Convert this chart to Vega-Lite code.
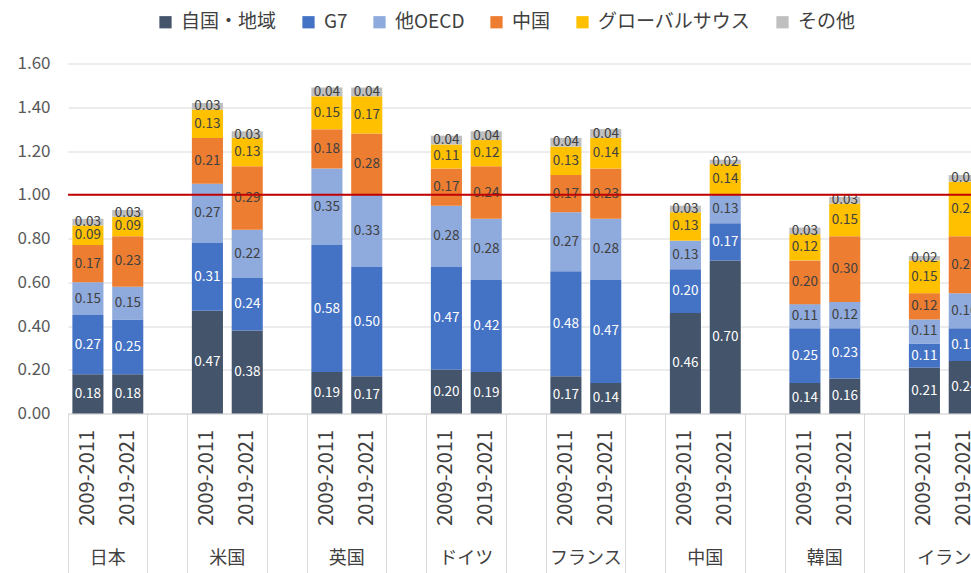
{
  "$schema": "https://vega.github.io/schema/vega-lite/v6.json",
  "width": 903,
  "height": 350,
  "autosize": {"type": "none"},
  "padding": {"left": 68, "top": 63.5, "right": 0, "bottom": 159.5},
  "config": {
    "font": "Noto Sans CJK JP",
    "view": {"stroke": null}
  },
  "layer": [
    {
      "data": {"values": [
        {"country":"日本","period":"2009-2011","cat":"自国・地域","value":0.18},
        {"country":"日本","period":"2009-2011","cat":"G7","value":0.27},
        {"country":"日本","period":"2009-2011","cat":"他OECD","value":0.15},
        {"country":"日本","period":"2009-2011","cat":"中国","value":0.17},
        {"country":"日本","period":"2009-2011","cat":"グローバルサウス","value":0.09},
        {"country":"日本","period":"2009-2011","cat":"その他","value":0.03},
        {"country":"日本","period":"2019-2021","cat":"自国・地域","value":0.18},
        {"country":"日本","period":"2019-2021","cat":"G7","value":0.25},
        {"country":"日本","period":"2019-2021","cat":"他OECD","value":0.15},
        {"country":"日本","period":"2019-2021","cat":"中国","value":0.23},
        {"country":"日本","period":"2019-2021","cat":"グローバルサウス","value":0.09},
        {"country":"日本","period":"2019-2021","cat":"その他","value":0.03},
        {"country":"米国","period":"2009-2011","cat":"自国・地域","value":0.47},
        {"country":"米国","period":"2009-2011","cat":"G7","value":0.31},
        {"country":"米国","period":"2009-2011","cat":"他OECD","value":0.27},
        {"country":"米国","period":"2009-2011","cat":"中国","value":0.21},
        {"country":"米国","period":"2009-2011","cat":"グローバルサウス","value":0.13},
        {"country":"米国","period":"2009-2011","cat":"その他","value":0.03},
        {"country":"米国","period":"2019-2021","cat":"自国・地域","value":0.38},
        {"country":"米国","period":"2019-2021","cat":"G7","value":0.24},
        {"country":"米国","period":"2019-2021","cat":"他OECD","value":0.22},
        {"country":"米国","period":"2019-2021","cat":"中国","value":0.29},
        {"country":"米国","period":"2019-2021","cat":"グローバルサウス","value":0.13},
        {"country":"米国","period":"2019-2021","cat":"その他","value":0.03},
        {"country":"英国","period":"2009-2011","cat":"自国・地域","value":0.19},
        {"country":"英国","period":"2009-2011","cat":"G7","value":0.58},
        {"country":"英国","period":"2009-2011","cat":"他OECD","value":0.35},
        {"country":"英国","period":"2009-2011","cat":"中国","value":0.18},
        {"country":"英国","period":"2009-2011","cat":"グローバルサウス","value":0.15},
        {"country":"英国","period":"2009-2011","cat":"その他","value":0.04},
        {"country":"英国","period":"2019-2021","cat":"自国・地域","value":0.17},
        {"country":"英国","period":"2019-2021","cat":"G7","value":0.50},
        {"country":"英国","period":"2019-2021","cat":"他OECD","value":0.33},
        {"country":"英国","period":"2019-2021","cat":"中国","value":0.28},
        {"country":"英国","period":"2019-2021","cat":"グローバルサウス","value":0.17},
        {"country":"英国","period":"2019-2021","cat":"その他","value":0.04},
        {"country":"ドイツ","period":"2009-2011","cat":"自国・地域","value":0.20},
        {"country":"ドイツ","period":"2009-2011","cat":"G7","value":0.47},
        {"country":"ドイツ","period":"2009-2011","cat":"他OECD","value":0.28},
        {"country":"ドイツ","period":"2009-2011","cat":"中国","value":0.17},
        {"country":"ドイツ","period":"2009-2011","cat":"グローバルサウス","value":0.11},
        {"country":"ドイツ","period":"2009-2011","cat":"その他","value":0.04},
        {"country":"ドイツ","period":"2019-2021","cat":"自国・地域","value":0.19},
        {"country":"ドイツ","period":"2019-2021","cat":"G7","value":0.42},
        {"country":"ドイツ","period":"2019-2021","cat":"他OECD","value":0.28},
        {"country":"ドイツ","period":"2019-2021","cat":"中国","value":0.24},
        {"country":"ドイツ","period":"2019-2021","cat":"グローバルサウス","value":0.12},
        {"country":"ドイツ","period":"2019-2021","cat":"その他","value":0.04},
        {"country":"フランス","period":"2009-2011","cat":"自国・地域","value":0.17},
        {"country":"フランス","period":"2009-2011","cat":"G7","value":0.48},
        {"country":"フランス","period":"2009-2011","cat":"他OECD","value":0.27},
        {"country":"フランス","period":"2009-2011","cat":"中国","value":0.17},
        {"country":"フランス","period":"2009-2011","cat":"グローバルサウス","value":0.13},
        {"country":"フランス","period":"2009-2011","cat":"その他","value":0.04},
        {"country":"フランス","period":"2019-2021","cat":"自国・地域","value":0.14},
        {"country":"フランス","period":"2019-2021","cat":"G7","value":0.47},
        {"country":"フランス","period":"2019-2021","cat":"他OECD","value":0.28},
        {"country":"フランス","period":"2019-2021","cat":"中国","value":0.23},
        {"country":"フランス","period":"2019-2021","cat":"グローバルサウス","value":0.14},
        {"country":"フランス","period":"2019-2021","cat":"その他","value":0.04},
        {"country":"中国","period":"2009-2011","cat":"自国・地域","value":0.46},
        {"country":"中国","period":"2009-2011","cat":"G7","value":0.20},
        {"country":"中国","period":"2009-2011","cat":"他OECD","value":0.13},
        {"country":"中国","period":"2009-2011","cat":"グローバルサウス","value":0.13},
        {"country":"中国","period":"2009-2011","cat":"その他","value":0.03},
        {"country":"中国","period":"2019-2021","cat":"自国・地域","value":0.70},
        {"country":"中国","period":"2019-2021","cat":"G7","value":0.17},
        {"country":"中国","period":"2019-2021","cat":"他OECD","value":0.13},
        {"country":"中国","period":"2019-2021","cat":"グローバルサウス","value":0.14},
        {"country":"中国","period":"2019-2021","cat":"その他","value":0.02},
        {"country":"韓国","period":"2009-2011","cat":"自国・地域","value":0.14},
        {"country":"韓国","period":"2009-2011","cat":"G7","value":0.25},
        {"country":"韓国","period":"2009-2011","cat":"他OECD","value":0.11},
        {"country":"韓国","period":"2009-2011","cat":"中国","value":0.20},
        {"country":"韓国","period":"2009-2011","cat":"グローバルサウス","value":0.12},
        {"country":"韓国","period":"2009-2011","cat":"その他","value":0.03},
        {"country":"韓国","period":"2019-2021","cat":"自国・地域","value":0.16},
        {"country":"韓国","period":"2019-2021","cat":"G7","value":0.23},
        {"country":"韓国","period":"2019-2021","cat":"他OECD","value":0.12},
        {"country":"韓国","period":"2019-2021","cat":"中国","value":0.30},
        {"country":"韓国","period":"2019-2021","cat":"グローバルサウス","value":0.15},
        {"country":"韓国","period":"2019-2021","cat":"その他","value":0.03},
        {"country":"イラン","period":"2009-2011","cat":"自国・地域","value":0.21},
        {"country":"イラン","period":"2009-2011","cat":"G7","value":0.11},
        {"country":"イラン","period":"2009-2011","cat":"他OECD","value":0.11},
        {"country":"イラン","period":"2009-2011","cat":"中国","value":0.12},
        {"country":"イラン","period":"2009-2011","cat":"グローバルサウス","value":0.15},
        {"country":"イラン","period":"2009-2011","cat":"その他","value":0.02},
        {"country":"イラン","period":"2019-2021","cat":"自国・地域","value":0.24},
        {"country":"イラン","period":"2019-2021","cat":"G7","value":0.15},
        {"country":"イラン","period":"2019-2021","cat":"他OECD","value":0.16},
        {"country":"イラン","period":"2019-2021","cat":"中国","value":0.26},
        {"country":"イラン","period":"2019-2021","cat":"グローバルサウス","value":0.25},
        {"country":"イラン","period":"2019-2021","cat":"その他","value":0.03}
      ]},
      "transform": [
        {"calculate": "datum.country + '|' + datum.period", "as": "slot"},
        {"calculate": "indexof(['自国・地域','G7','他OECD','中国','グローバルサウス','その他'], datum.cat)", "as": "ord"},
        {"stack": "value", "groupby": ["slot"], "sort": [{"field": "ord", "order": "ascending"}], "as": ["v0", "v1"]},
        {"calculate": "(datum.v0 + datum.v1) / 2", "as": "mid"}
      ],
      "layer": [
        {
          "mark": {"type": "bar", "width": {"band": 0.78}},
          "encoding": {
            "x": {
              "field": "slot",
              "type": "nominal",
              "scale": {
                "domain": ["日本|2009-2011","日本|2019-2021","日本|gap","米国|2009-2011","米国|2019-2021","米国|gap","英国|2009-2011","英国|2019-2021","英国|gap","ドイツ|2009-2011","ドイツ|2019-2021","ドイツ|gap","フランス|2009-2011","フランス|2019-2021","フランス|gap","中国|2009-2011","中国|2019-2021","中国|gap","韓国|2009-2011","韓国|2019-2021","韓国|gap","イラン|2009-2011","イラン|2019-2021","イラン|gap"],
                "range": [0, 956],
                "paddingInner": 0,
                "paddingOuter": 0
              },
              "axis": {
                "title": null,
                "labelExpr": "split(datum.value,'|')[1] == 'gap' ? '' : split(datum.value,'|')[1]",
                "labelAngle": 270,
                "labelFontSize": 20,
                "labelPadding": -143,
                "labelColor": "#404040",
                "bandPosition": 0,
                "tickSize": 159,
                "tickColor": "#d9d9d9",
                "tickOpacity": {"condition": {"test": "indexof(datum.value, '2019') >= 0", "value": 0}, "value": 1},
                "domainColor": "#d9d9d9",
                "grid": false
              }
            },
            "y": {
              "field": "v0",
              "type": "quantitative",
              "scale": {"domain": [0, 1.6], "nice": false},
              "axis": {
                "title": null,
                "values": [0, 0.2, 0.4, 0.6, 0.8, 1.0, 1.2, 1.4, 1.6],
                "format": ".2f",
                "ticks": false,
                "domain": false,
                "labelPadding": 18,
                "labelFontSize": 17,
                "labelColor": "#595959",
                "gridColor": "#d9d9d9"
              }
            },
            "y2": {"field": "v1"},
            "color": {
              "field": "cat",
              "type": "nominal",
              "scale": {
                "domain": ["自国・地域","G7","他OECD","中国","グローバルサウス","その他"],
                "range": ["#44546A","#4472C4","#8FAADC","#ED7D31","#FFC000","#BFBFBF"]
              },
              "legend": {
                "orient": "none",
                "direction": "horizontal",
                "legendX": 88,
                "legendY": -51,
                "title": null,
                "symbolType": "square",
                "symbolSize": 150,
                "symbolStrokeWidth": 0,
                "labelFontSize": 19,
                "labelColor": "#404040",
                "labelOffset": 6,
                "columnPadding": 22
              }
            }
          }
        },
        {
          "mark": {"type": "text", "fontSize": 13.5, "baseline": "middle"},
          "encoding": {
            "x": {"field": "slot", "type": "nominal"},
            "y": {"field": "mid", "type": "quantitative"},
            "text": {"field": "value", "type": "quantitative", "format": ".2f"},
            "color": {"condition": {"test": "datum.ord <= 1", "value": "#ffffff"}, "value": "#404040"}
          }
        },
        {
          "transform": [{"filter": "datum.ord == 0 && datum.period == '2019-2021'"}],
          "mark": {"type": "text", "fontSize": 18, "baseline": "middle", "color": "#404040"},
          "encoding": {
            "x": {"field": "slot", "type": "nominal", "bandPosition": 0},
            "y": {"datum": -0.665, "type": "quantitative"},
            "text": {"field": "country", "type": "nominal"}
          }
        }
      ]
    },
    {
      "data": {"values": [{"ref": 1.0}]},
      "mark": {"type": "rule", "color": "#C00000", "strokeWidth": 2},
      "encoding": {"y": {"field": "ref", "type": "quantitative"}}
    }
  ]
}
